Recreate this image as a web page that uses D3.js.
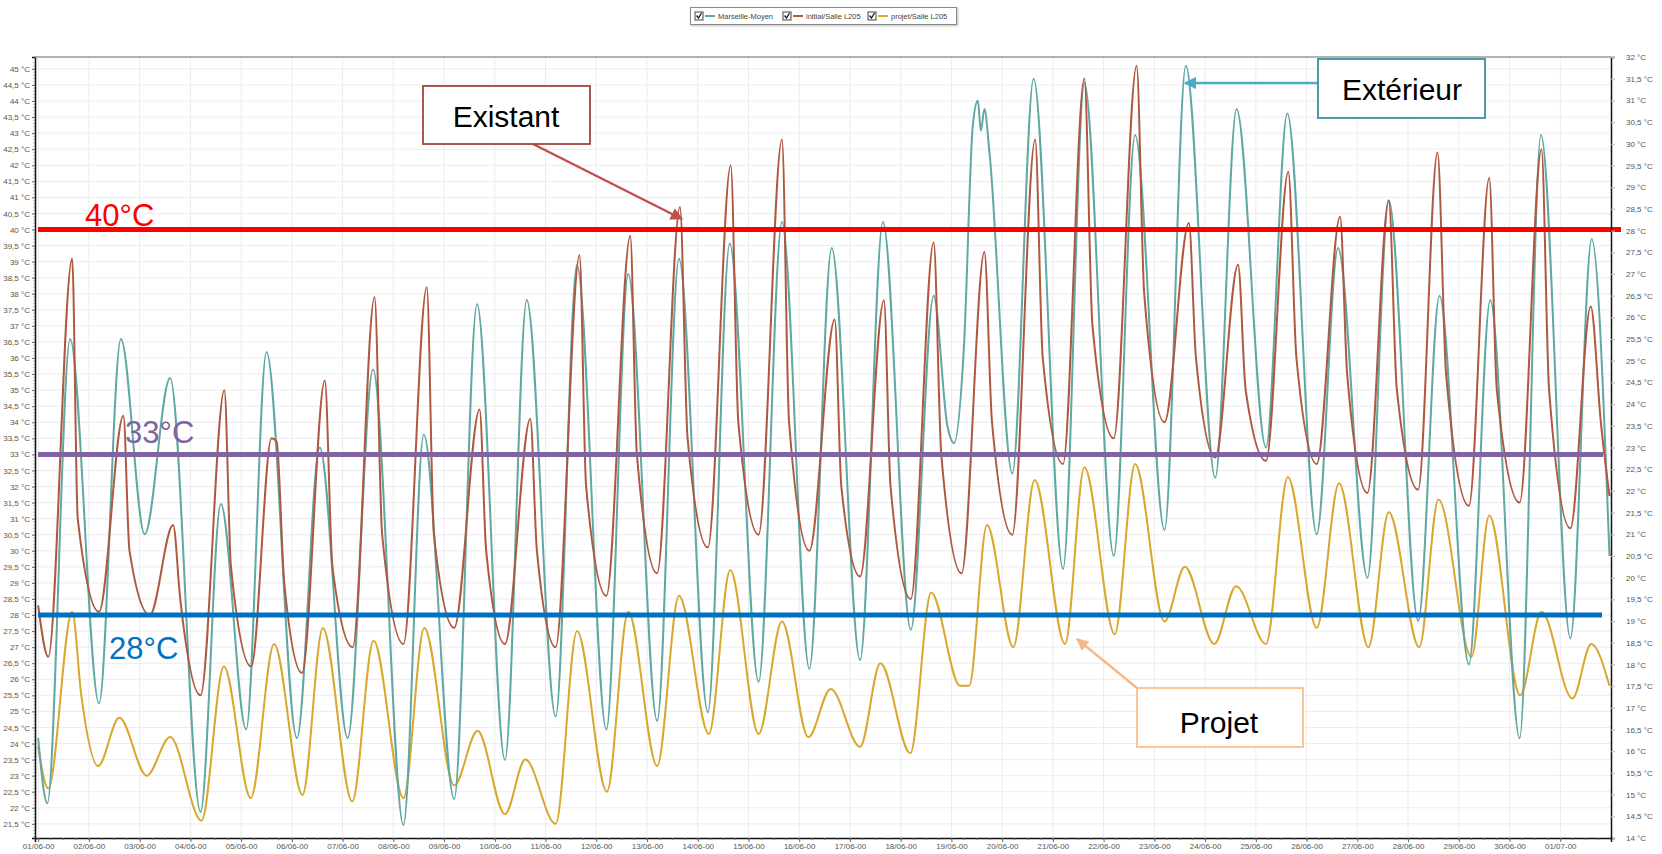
<!DOCTYPE html>
<html>
<head>
<meta charset="utf-8">
<script src="https://cdn.jsdelivr.net/npm/d3@7"></script>
<style>
  body { margin: 0; background: #fff; }
  svg { font-family: "Liberation Sans", Arial, sans-serif; }
</style>
</head>
<body>
<svg id="chart" width="1662" height="854"></svg>
<script>
// series: [days since 01/06-00 00:00, value]
// exterior temperature (right axis)
const exterieur = [[0,16.3],[0.18,14.8],[0.63,25.5],[1.2,17.1],[1.63,25.5],[2.1,21.0],[2.6,24.6],[3.2,14.6],[3.6,21.7],[4.1,16.5],[4.5,25.2],[5.1,16.3],[5.55,23.0],[6.1,16.3],[6.6,24.8],[7.2,14.3],[7.6,23.3],[8.2,14.9],[8.65,26.3],[9.2,15.8],[9.63,26.4],[10.2,16.8],[10.62,27.2],[11.2,16.5],[11.63,27.0],[12.2,16.7],[12.63,27.35],[13.2,16.9],[13.63,27.7],[14.2,17.6],[14.66,28.2],[15.2,17.9],[15.64,27.6],[16.2,18.1],[16.65,28.2],[17.2,18.8],[17.65,26.5],[17.92,23.5],[18.05,23.1],[18.25,25.4],[18.42,30.4],[18.52,31.0],[18.58,30.3],[18.65,30.8],[18.75,29.8],[19.2,22.4],[19.62,31.5],[20.2,20.2],[20.62,31.4],[21.2,20.5],[21.62,30.2],[22.2,21.1],[22.62,31.8],[23.2,22.3],[23.62,30.8],[24.2,23.0],[24.62,30.7],[25.2,21.0],[25.62,27.6],[26.2,20.0],[26.62,28.7],[27.2,19.0],[27.62,26.5],[28.2,18.0],[28.62,26.4],[29.2,16.3],[29.62,30.2],[30.2,18.6],[30.62,27.8],[30.97,20.5]];
// initial/Salle L205 (left axis)
const initial = [[0,28.3],[0.2,26.7],[0.67,39.1],[0.78,31],[1.2,28.1],[1.68,34.2],[1.8,30],[2.2,28],[2.66,30.8],[2.8,28.5],[3.2,25.5],[3.67,35],[3.8,29.5],[4.2,26.4],[4.6,33.5],[4.7,33.4],[4.85,29],[5.2,26.2],[5.65,35.3],[5.8,29.5],[6.2,27],[6.63,37.9],[6.78,30.5],[7.2,27.1],[7.66,38.2],[7.8,30.5],[8.2,27.6],[8.7,34.4],[8.83,30],[9.2,27.1],[9.7,34.1],[9.83,30],[10.2,27],[10.67,39.2],[10.8,32],[11.2,28.6],[11.67,39.8],[11.8,33],[12.2,29.3],[12.65,40.7],[12.8,33.5],[13.2,30.1],[13.65,42],[13.8,34],[14.2,30.5],[14.66,42.8],[14.8,34],[15.2,30],[15.7,37.2],[15.83,32],[16.2,29.2],[16.67,37.8],[16.8,32],[17.2,28.5],[17.65,39.6],[17.8,33],[18.2,29.3],[18.65,39.3],[18.8,34],[19.2,30.5],[19.65,42.8],[19.8,36],[20.2,32.7],[20.62,44.7],[20.78,37],[21.2,33.5],[21.65,45.1],[21.8,38],[22.2,34],[22.68,40.2],[22.82,36],[23.2,32.9],[23.65,38.9],[23.8,35],[24.2,32.8],[24.64,41.8],[24.8,36],[25.2,32.7],[25.66,40.4],[25.8,35.5],[26.2,31.8],[26.62,40.9],[26.78,35],[27.2,31.9],[27.58,42.4],[27.75,35.5],[28.2,31.4],[28.6,41.6],[28.75,35],[29.2,31.5],[29.63,42.5],[29.78,35],[30.2,30.7],[30.6,37.6],[30.8,34],[30.97,31.7]];
// projet/Salle L205 (left axis)
const projet = [[0,23.9],[0.2,22.6],[0.67,28.1],[0.85,25.5],[1.18,23.3],[1.6,24.8],[2.14,23],[2.6,24.2],[3.22,21.6],[3.66,26.4],[4.19,22.3],[4.65,27.1],[5.21,22.4],[5.61,27.6],[6.19,22.2],[6.61,27.2],[7.2,22.3],[7.61,27.6],[8.2,22.7],[8.66,24.4],[9.2,21.8],[9.6,23.5],[10.2,21.5],[10.62,27.5],[11.21,22.5],[11.63,28.1],[12.2,23.3],[12.63,28.6],[13.22,24.3],[13.64,29.4],[14.2,24.3],[14.66,27.8],[15.18,24.2],[15.62,25.7],[16.2,23.9],[16.6,26.5],[17.19,23.7],[17.6,28.7],[18.17,25.8],[18.35,25.8],[18.7,30.8],[19.22,27],[19.64,32.2],[20.24,27.1],[20.62,32.6],[21.22,27.4],[21.62,32.7],[22.2,27.8],[22.6,29.5],[23.18,27.1],[23.61,28.9],[24.2,27.1],[24.63,32.3],[25.2,27.6],[25.64,32.1],[26.22,27],[26.62,31.2],[27.22,27],[27.6,31.6],[28.25,26.7],[28.6,31.1],[29.21,25.5],[29.63,28.1],[30.24,25.4],[30.61,27.1],[30.97,25.8]];

const seriesNames = ["Marseille-Moyen", "initial/Salle L205", "projet/Salle L205"];
const seriesColors = ["#5fa8a3", "#b0583f", "#d9a72e"];
const thresholds = [40, 33, 28];
const thresholdLabels = ["40°C", "33°C", "28°C"];
const thresholdColors = ["#ff0000", "#8064a2", "#0070c0"];

const svg = d3.select("#chart");
const pL = 35, pR = 1611, pT = 57, pB = 838;
const t0 = Date.UTC(2000, 5, 1);
const toDate = t => new Date(t0 + t * 864e5);

const x = d3.scaleUtc()
  .domain([new Date(t0 - 1.5 * 36e5), new Date(Date.UTC(2000, 6, 2))])
  .range([pL, pR]);
const yL = d3.scaleLinear().domain([21.06, 45.37]).range([pB, pT]);
const yR = d3.scaleLinear().domain([14, 32]).range([pB, pT]);
const fmt = d => d3.format(".1~f")(d).replace(".", ",") + " °C";

// grid
const grid = svg.append("g").attr("stroke", "#ececec").attr("stroke-width", 1);
grid.selectAll(".h").data(d3.range(21.5, 45.01, 0.5)).enter().append("line")
  .attr("x1", pL).attr("x2", pR)
  .attr("y1", d => yL(d)).attr("y2", d => yL(d));
grid.selectAll(".v").data(d3.utcDay.range(toDate(0), toDate(31))).enter().append("line")
  .attr("x1", d => x(d)).attr("x2", d => x(d))
  .attr("y1", pT).attr("y2", pB);

// lines
const lineL = d3.line().x(d => x(toDate(d[0]))).y(d => yL(d[1])).curve(d3.curveMonotoneX);
const lineR = d3.line().x(d => x(toDate(d[0]))).y(d => yR(d[1])).curve(d3.curveMonotoneX);
const plot = svg.append("g").attr("fill", "none").attr("stroke-width", 2).attr("stroke-linejoin", "round");
plot.append("path").attr("d", lineL(projet)).attr("stroke", seriesColors[2]);
plot.append("path").attr("d", lineR(exterieur)).attr("stroke", seriesColors[0]);
plot.append("path").attr("d", lineL(initial)).attr("stroke", seriesColors[1]);

// threshold lines
const lineEnds = [1621, 1603, 1602];
const labelPos = [[85, 226], [125, 443], [109, 659]];
thresholds.forEach((v, i) => {
  svg.append("line").attr("x1", 38).attr("x2", lineEnds[i])
    .attr("y1", yL(v)).attr("y2", yL(v))
    .attr("stroke", thresholdColors[i]).attr("stroke-width", 5);
  svg.append("text").attr("x", labelPos[i][0]).attr("y", labelPos[i][1])
    .attr("font-size", 31).attr("fill", thresholdColors[i]).text(thresholdLabels[i]);
});

// axes
const axisL = d3.axisLeft(yL).tickValues(d3.range(21.5, 45.01, 0.5)).tickFormat(fmt).tickSize(3).tickPadding(2);
const axisR = d3.axisRight(yR).tickValues(d3.range(14, 32.01, 0.5)).tickFormat(fmt).tickSize(4).tickPadding(11);
const axisB = d3.axisBottom(x).tickValues(d3.utcDay.range(toDate(0), toDate(30.5)))
  .tickFormat(d3.utcFormat("%d/%m-%y")).tickSize(4).tickPadding(3);

function styleAxis(g) {
  g.select(".domain").attr("stroke", "#111").attr("stroke-width", 1.5);
  g.selectAll(".tick line").attr("stroke", "#666");
  g.selectAll(".tick text").attr("fill", "#555").attr("font-size", 8);
}
svg.append("g").attr("transform", `translate(${pL},0)`).call(axisL).call(styleAxis);
svg.append("g").attr("transform", `translate(${pR},0)`).call(axisR).call(styleAxis)
  .selectAll(".tick line").attr("stroke", "#bbb");
const gB = svg.append("g").attr("transform", `translate(0,${pB})`).call(axisB).call(styleAxis);
gB.selectAll(".tick text").attr("dy", "0.55em");
// minor ticks
svg.append("g").attr("stroke", "#666").selectAll("line")
  .data(d3.utcHour.every(6).range(toDate(0), toDate(31))).enter().append("line")
  .attr("x1", d => x(d)).attr("x2", d => x(d)).attr("y1", pB).attr("y2", pB + 2);
svg.append("g").attr("stroke", "#888").selectAll("line")
  .data(d3.range(21.1, 45.3, 0.1)).enter().append("line")
  .attr("x1", pL - 1.5).attr("x2", pL).attr("y1", d => yL(d)).attr("y2", d => yL(d));
svg.append("line").attr("x1", pL).attr("x2", pR).attr("y1", pT).attr("y2", pT)
  .attr("stroke", "#9a9a9a").attr("stroke-width", 1.5);

// legend
const lg = svg.append("g");
lg.append("rect").attr("x", 690.5).attr("y", 7.5).attr("width", 266).attr("height", 17)
  .attr("fill", "#fff").attr("stroke", "#8a8a8a").style("filter", "drop-shadow(1px 1px 1px #bbb)");
const legX = [695, 783, 868];
seriesNames.forEach((n, i) => {
  const g = lg.append("g").attr("transform", `translate(${legX[i]},16)`);
  g.append("rect").attr("x", 0).attr("y", -4).attr("width", 8).attr("height", 8)
    .attr("fill", "#fff").attr("stroke", "#444");
  g.append("path").attr("d", "M1.5,-0.5 L3.5,2 L6.5,-3").attr("fill", "none").attr("stroke", "#222").attr("stroke-width", 1.3);
  g.append("line").attr("x1", 10).attr("x2", 20).attr("y1", 0).attr("y2", 0)
    .attr("stroke", seriesColors[i]).attr("stroke-width", 2);
  g.append("text").attr("x", 23).attr("y", 2.8).attr("font-size", 7.5).attr("fill", "#444").text(n);
});

// annotations
const defs = svg.append("defs");
function marker(id, color) {
  defs.append("marker").attr("id", id).attr("viewBox", "0 0 10 10").attr("refX", 9).attr("refY", 5)
    .attr("markerWidth", 5).attr("markerHeight", 5).attr("orient", "auto")
    .append("path").attr("d", "M0,0 L10,5 L0,10 z").attr("fill", color);
}
const notes = [
  { text: "Existant", box: [423, 86, 167, 58], tx: 506, ty: 127, stroke: "#a3443f", arrow: "#c0504d", from: [533, 144], to: [682, 219] },
  { text: "Extérieur", box: [1318, 59, 167, 59], tx: 1402, ty: 100, stroke: "#3a8ea5", arrow: "#4bacc6", from: [1318, 83], to: [1185, 83] },
  { text: "Projet", box: [1137, 688, 166, 59], tx: 1219, ty: 733, stroke: "#fac090", arrow: "#f8b988", from: [1137, 688], to: [1077, 639] }
];
notes.forEach((n, i) => {
  marker("arr" + i, n.arrow);
  svg.append("line").attr("x1", n.from[0]).attr("y1", n.from[1]).attr("x2", n.to[0]).attr("y2", n.to[1])
    .attr("stroke", n.arrow).attr("stroke-width", 2.5).attr("marker-end", `url(#arr${i})`);
  svg.append("rect").attr("x", n.box[0]).attr("y", n.box[1]).attr("width", n.box[2]).attr("height", n.box[3])
    .attr("fill", "#fff").attr("stroke", n.stroke).attr("stroke-width", 1.8);
  svg.append("text").attr("x", n.tx).attr("y", n.ty).attr("text-anchor", "middle")
    .attr("font-size", 30).attr("fill", "#000").text(n.text);
});
</script>
</body>
</html>
